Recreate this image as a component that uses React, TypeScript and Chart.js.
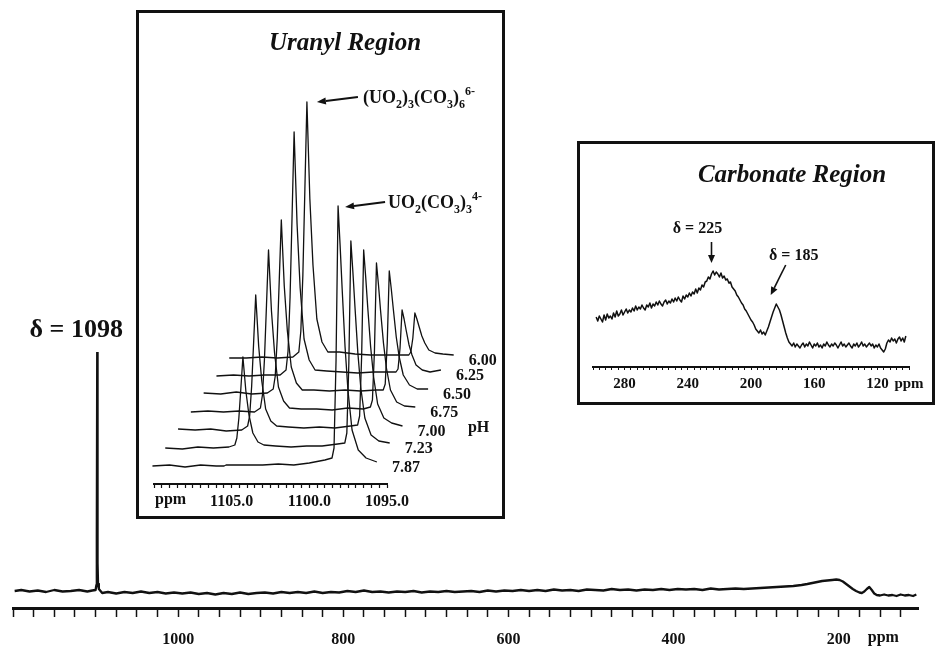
import React, { useEffect, useRef } from "react";
import { Chart, registerables } from "chart.js";

Chart.register(...registerables);

const SERIF = "'Liberation Serif', 'Times New Roman', Times, serif";
const INK = "#111111";

/* ---------------- Main 17O spectrum: [ppm, intensity] ---------------- */
const mainSpectrum: [number, number][] = [
  [1198, 17], [1190, 18], [1180, 16.5], [1170, 17.5], [1160, 16], [1150, 18], [1140, 16.5], [1130, 17],
  [1120, 18], [1110, 16.5], [1104, 17.5], [1100, 18], [1099, 23], [1098.5, 70], [1098, 256], [1097.6, 45],
  [1097, 24], [1096, 19], [1092, 15], [1085, 16], [1075, 14.5], [1065, 16], [1055, 15], [1045, 16.5],
  [1035, 15], [1025, 16], [1015, 14.5], [1005, 15.5], [995, 14.5], [985, 15.5], [975, 14], [965, 15],
  [955, 13.5], [945, 15], [935, 14], [925, 15.5], [915, 14], [905, 15], [895, 15.5], [885, 14.5],
  [875, 16], [865, 15], [855, 16], [845, 15], [835, 16.5], [825, 15], [815, 16], [805, 15.5],
  [795, 17], [785, 16], [775, 17.5], [765, 16], [755, 16.5], [745, 15.5], [735, 16.5], [725, 16],
  [715, 17], [705, 15.5], [695, 16.5], [685, 16], [675, 17], [665, 16], [655, 16.5], [645, 17],
  [635, 16], [625, 17.5], [615, 16.5], [605, 17.5], [595, 17], [585, 18], [575, 17], [565, 18],
  [555, 17], [545, 18.5], [535, 17.5], [525, 18], [515, 17], [505, 18.5], [495, 18], [485, 17.5],
  [475, 19], [465, 18], [455, 18.5], [445, 17.5], [435, 18.5], [425, 18], [415, 19], [405, 18],
  [395, 19], [385, 18.5], [375, 19], [365, 18], [355, 19.5], [345, 18.5], [335, 19], [325, 19.5],
  [315, 19], [305, 19.5], [295, 20], [285, 20.5], [275, 21], [265, 21.5], [255, 22], [245, 23],
  [238, 24], [232, 25], [226, 26], [220, 27], [214, 27.5], [208, 28], [203, 28.5], [199, 28],
  [195, 26.5], [191, 24], [187, 21.5], [183, 19], [179, 17], [175, 15.5], [172, 15], [169, 16.5],
  [166, 19], [163, 21], [160, 18], [157, 14.5], [154, 13], [150, 12.5], [145, 13.5], [140, 12.5],
  [135, 13], [130, 12], [125, 13.5], [120, 12.5], [115, 13], [110, 12], [106, 13.5],
];
const mainTickLabelValues = [1000, 800, 600, 400, 200];
const mainTickLabels = ["1000", "800", "600", "400", "200"];
const mainPeakPpm = 1098;
const mainPeakValue = 256;
const mainPeakLabel = "δ = 1098";

/* ---------------- Uranyl region (stacked traces, own ppm) ---------------- */
const uranylPpm = [
  1110.1, 1109.0, 1108.0, 1107.0, 1106.0, 1105.62, 1105.49, 1105.36, 1105.23, 1105.1, 1104.91, 1104.71,
  1104.46, 1104.13, 1103.75, 1103.0, 1102.0, 1101.0, 1100.0, 1099.0, 1098.54, 1098.41, 1098.28, 1098.15,
  1098.02, 1097.89, 1097.7, 1097.51, 1097.25, 1096.85, 1096.35, 1095.65,
];
const pHLabels = ["7.87", "7.23", "7.00", "6.75", "6.50", "6.25", "6.00"];
const trace787 = [0, 1, -1, 1, 0, 0, 0, 1, 1, 1, 1, 1, 1, 1, 1, 1, 2, 1, 3, 6, 8, 18, 106, 260, 221, 178, 119, 75, 36, 16, 8, 4];
const trace723 = [0, -1, 1, 0, 1, 3, 10, 30, 60, 91, 57, 33, 15, 6, 3, 2, 1, 2, 2, 4, 5, 15, 85, 207, 176, 142, 95, 60, 30, 13, 7, 5];
const trace700 = [1, 0, 1, -1, 0, 4, 14, 44, 89, 135, 84, 49, 21, 9, 4, 3, 2, 3, 2, 4, 5, 14, 74, 180, 153, 123, 83, 53, 26, 12, 7, 4];
const trace675 = [0, 1, 0, 1, 0, 4, 17, 53, 107, 162, 101, 59, 25, 11, 4, 3, 3, 2, 4, 3, 5, 12, 61, 149, 127, 102, 69, 44, 22, 10, 6, 5];
const trace650 = [1, 0, 2, 0, 1, 5, 18, 56, 115, 174, 108, 63, 27, 11, 4, 4, 3, 4, 3, 4, 4, 10, 51, 123, 105, 85, 57, 37, 19, 9, 5, 5];
const trace625 = [0, 1, 0, 1, 1, 6, 25, 79, 161, 244, 152, 88, 37, 16, 6, 5, 4, 3, 4, 4, 4, 7, 28, 66, 57, 46, 31, 21, 11, 6, 4, 6];
const trace600 = [0, 0, 1, 0, 1, 6, 27, 83, 169, 256, 159, 93, 39, 16, 6, 6, 4, 3, 3, 3, 3, 6, 20, 45, 39, 32, 22, 15, 8, 5, 4, 3];
const uranylTraces = [trace787, trace723, trace700, trace675, trace650, trace625, trace600];
const uranylTickLabelValues = [1105, 1100, 1095];
const uranylTickLabels = ["1105.0", "1100.0", "1095.0"];
const TRIMER_INDEX = 9;
const MONOMER_INDEX = 23;

/* ---------------- Carbonate region (ppm 298 → 102, every 1 ppm) ---------------- */
const carbonateIntensity = [
  50, 46, 51, 48, 45, 52, 47, 53, 49, 51,
  48, 54, 50, 56, 51, 53, 57, 52, 55, 58,
  54, 57, 55, 59, 56, 61, 57, 60, 58, 62,
  59, 57, 62, 60, 64, 59, 63, 61, 65, 62,
  66, 63, 61, 65, 67, 63, 66, 64, 68, 65,
  69, 66, 70, 67, 65, 71, 68, 72, 70, 74,
  71, 75, 73, 78, 74, 79, 77, 82, 80, 85,
  86, 90, 88, 93, 96, 92, 95, 93, 90, 94,
  89, 91, 87, 88, 84, 85, 80, 78, 76, 72,
  70, 67, 64, 62, 58, 56, 53, 50, 47, 45,
  42, 38, 36, 34, 37, 33, 35, 32, 36, 40,
  45, 50, 55, 59, 63, 60, 57, 52, 46, 40,
  34, 29, 25, 23, 21, 24, 20, 23, 21, 19,
  22, 24, 20, 23, 21, 25, 22, 19, 23, 21,
  24, 20, 22, 19, 23, 21, 25, 22, 20, 23,
  21, 24, 22, 19, 22, 25, 21, 23, 20, 22,
  24, 21, 19, 23, 21, 24, 20, 22, 25, 21,
  23, 20, 22, 24, 21, 23, 19, 22, 20, 23,
  19, 17, 15, 18, 24, 27, 25, 29, 26, 28,
  24, 28, 30, 26, 29, 25, 31,
];
const carbonatePpm = carbonateIntensity.map((_, i) => 298 - i);
const carbonateTickLabelValues = [280, 240, 200, 160, 120, 100];
const carbonateTickLabels = ["280", "240", "200", "160", "120", "ppm"];

/* ---------------- helpers ---------------- */
function makeTicks(start: number, end: number, step: number) {
  const out: { value: number }[] = [];
  const n = Math.round((start - end) / step);
  for (let i = 0; i <= n; i++) out.push({ value: Math.round((start - i * step) * 1000) / 1000 });
  return out;
}
function labelLookup(values: number[], labels: string[]) {
  return (v: any) => {
    const k = values.findIndex((x) => Math.abs(x - Number(v)) < 1e-6);
    return k >= 0 ? labels[k] : "";
  };
}
function drawArrow(ctx: CanvasRenderingContext2D, x1: number, y1: number, x2: number, y2: number, head = 9, half = 3.5, lw = 2) {
  const a = Math.atan2(y2 - y1, x2 - x1);
  const bx = x2 - head * Math.cos(a);
  const by = y2 - head * Math.sin(a);
  ctx.lineWidth = lw;
  ctx.beginPath();
  ctx.moveTo(x1, y1);
  ctx.lineTo(bx, by);
  ctx.stroke();
  ctx.beginPath();
  ctx.moveTo(x2, y2);
  ctx.lineTo(bx + half * Math.sin(a), by - half * Math.cos(a));
  ctx.lineTo(bx - half * Math.sin(a), by + half * Math.cos(a));
  ctx.closePath();
  ctx.fill();
}
type Seg = [string, number];
const trimerFormula: Seg[] = [["(UO", 0], ["2", 1], [")", 0], ["3", 1], ["(CO", 0], ["3", 1], [")", 0], ["6", 1], ["6-", 2]];
const monomerFormula: Seg[] = [["UO", 0], ["2", 1], ["(CO", 0], ["3", 1], [")", 0], ["3", 1], ["4-", 2]];
function drawFormula(ctx: CanvasRenderingContext2D, segs: Seg[], x: number, y: number) {
  let cx = x;
  ctx.textAlign = "left";
  ctx.textBaseline = "alphabetic";
  for (const [t, kind] of segs) {
    ctx.font = kind === 0 ? `bold 18px ${SERIF}` : `bold 12px ${SERIF}`;
    const dy = kind === 1 ? 5 : kind === 2 ? -8 : 0;
    ctx.fillText(t, cx, y + dy);
    cx += ctx.measureText(t).width;
  }
}

const LIFT = 18;
const DY = 18;
const DX = 0.824;

const baseOptions = {
  responsive: false,
  animation: false as const,
  devicePixelRatio: 1,
  events: [] as any[],
  plugins: { legend: { display: false }, tooltip: { enabled: false } },
};

export default function App() {
  const mainRef = useRef<HTMLCanvasElement>(null);
  const uranylRef = useRef<HTMLCanvasElement>(null);
  const carbRef = useRef<HTMLCanvasElement>(null);

  useEffect(() => {
    const charts: Chart[] = [];

    /* ---- main ---- */
    const mainAnnot = {
      id: "mainAnnot",
      afterDraw(chart: any) {
        const { ctx, scales } = chart;
        const x = scales.x, y = scales.y;
        ctx.save();
        ctx.fillStyle = INK;
        ctx.font = `bold 26px ${SERIF}`;
        ctx.textAlign = "center";
        ctx.textBaseline = "alphabetic";
        ctx.fillText(mainPeakLabel, x.getPixelForValue(mainPeakPpm) - 21, y.getPixelForValue(mainPeakValue) - 15);
        ctx.font = `bold 16px ${SERIF}`;
        ctx.textBaseline = "top";
        ctx.fillText("ppm", x.getPixelForValue(146), chart.chartArea.bottom + 22);
        ctx.restore();
      },
    };
    charts.push(
      new Chart(mainRef.current!, {
        type: "line",
        data: {
          datasets: [
            {
              data: mainSpectrum.map(([p, v]) => ({ x: p, y: v })),
              borderColor: INK,
              borderWidth: 2.3,
              pointRadius: 0,
              tension: 0,
              fill: false,
              borderJoinStyle: "round",
            },
          ],
        },
        options: {
          ...baseOptions,
          layout: { padding: { left: 4, right: 17, top: 352, bottom: 0 } },
          scales: {
            x: {
              type: "linear",
              reverse: true,
              min: 104,
              max: 1200,
              afterBuildTicks: (s: any) => { s.ticks = makeTicks(1200, 125, 25); },
              afterFit: (s: any) => { s.height = 38; },
              grid: { display: true, drawOnChartArea: false, drawTicks: true, tickLength: 9, tickColor: INK, tickWidth: 1.5 },
              border: { display: true, color: INK, width: 3 },
              ticks: {
                autoSkip: false, maxRotation: 0, minRotation: 0, padding: 13, color: INK,
                font: { family: SERIF, size: 16, weight: "bold" },
                callback: labelLookup(mainTickLabelValues, mainTickLabels),
              },
            },
            y: { display: false, min: 0, max: 256 },
          },
        } as any,
        plugins: [mainAnnot],
      })
    );

    /* ---- uranyl ---- */
    const uranylAnnot = {
      id: "uranylAnnot",
      afterDraw(chart: any) {
        const { ctx, scales, chartArea } = chart;
        const x = scales.x, y = scales.y;
        ctx.save();
        ctx.fillStyle = INK;
        ctx.strokeStyle = INK;
        ctx.font = `italic bold 25px ${SERIF}`;
        ctx.textAlign = "center";
        ctx.textBaseline = "alphabetic";
        ctx.fillText("Uranyl Region", 206, 37);

        ctx.font = `bold 16px ${SERIF}`;
        ctx.textAlign = "left";
        ctx.textBaseline = "top";
        ctx.fillText("ppm", chartArea.left + 1, chartArea.bottom + 8);

        const last = uranylPpm.length - 1;
        ctx.textBaseline = "alphabetic";
        uranylTraces.forEach((tr, i) => {
          const px = x.getPixelForValue(uranylPpm[last] - i * DX) + 15;
          const py = y.getPixelForValue(tr[last] + LIFT + i * DY) + 10;
          ctx.fillText(pHLabels[i], px, py);
        });
        ctx.fillText("pH", x.getPixelForValue(uranylPpm[last] - 5 * DX) + 27, y.getPixelForValue(LIFT + 2 * DY) + 2);

        const t6 = uranylTraces.length - 1;
        const tx = x.getPixelForValue(uranylPpm[TRIMER_INDEX] - t6 * DX) + 10;
        const ty = y.getPixelForValue(uranylTraces[t6][TRIMER_INDEX] + LIFT + t6 * DY);
        drawArrow(ctx, tx + 41, ty - 5, tx, ty);
        drawFormula(ctx, trimerFormula, tx + 46, ty + 1);

        const mx = x.getPixelForValue(uranylPpm[MONOMER_INDEX]) + 7;
        const my = y.getPixelForValue(uranylTraces[0][MONOMER_INDEX] + LIFT) + 1;
        drawArrow(ctx, mx + 40, my - 5, mx, my);
        drawFormula(ctx, monomerFormula, mx + 43, my + 1);
        ctx.restore();
      },
    };
    charts.push(
      new Chart(uranylRef.current!, {
        type: "line",
        data: {
          datasets: uranylTraces.map((tr, i) => ({
            data: uranylPpm.map((p, k) => ({ x: p - i * DX, y: tr[k] + LIFT + i * DY })),
            borderColor: INK,
            borderWidth: 1.3,
            pointRadius: 0,
            tension: 0,
            fill: false,
            clip: false,
            borderJoinStyle: "round",
          })),
        },
        options: {
          ...baseOptions,
          layout: { padding: { left: 15, right: 115, top: 80, bottom: 4 } },
          scales: {
            x: {
              type: "linear",
              reverse: true,
              min: 1095,
              max: 1110,
              afterBuildTicks: (s: any) => { s.ticks = makeTicks(1110, 1095, 0.5); },
              afterFit: (s: any) => { s.height = 28; },
              grid: { display: true, drawOnChartArea: false, drawTicks: true, tickLength: 4, tickColor: INK, tickWidth: 1.2 },
              border: { display: true, color: INK, width: 2 },
              ticks: {
                autoSkip: false, maxRotation: 0, minRotation: 0, padding: 4, color: INK,
                font: { family: SERIF, size: 16, weight: "bold" },
                callback: labelLookup(uranylTickLabelValues, uranylTickLabels),
              },
            },
            y: { display: false, min: 0, max: 391 },
          },
        } as any,
        plugins: [uranylAnnot],
      })
    );

    /* ---- carbonate ---- */
    const carbAnnot = {
      id: "carbAnnot",
      afterDraw(chart: any) {
        const { ctx, scales } = chart;
        const x = scales.x, y = scales.y;
        ctx.save();
        ctx.fillStyle = INK;
        ctx.strokeStyle = INK;
        ctx.font = `italic bold 25px ${SERIF}`;
        ctx.textAlign = "center";
        ctx.textBaseline = "alphabetic";
        ctx.fillText("Carbonate Region", 212, 38);

        ctx.font = `bold 16px ${SERIF}`;
        const p1x = x.getPixelForValue(225);
        const p1y = y.getPixelForValue(95);
        ctx.fillText("δ = 225", p1x - 14, p1y - 39);
        drawArrow(ctx, p1x, p1y - 30, p1x, p1y - 9, 8, 3.5, 1.6);

        const p2x = x.getPixelForValue(185);
        const p2y = y.getPixelForValue(63);
        ctx.fillText("δ = 185", p2x + 19, p2y - 44);
        drawArrow(ctx, p2x + 11, p2y - 39, p2x - 4, p2y - 9, 8, 3.5, 1.6);
        ctx.restore();
      },
    };
    charts.push(
      new Chart(carbRef.current!, {
        type: "line",
        data: {
          datasets: [
            {
              data: carbonatePpm.map((p, k) => ({ x: p, y: carbonateIntensity[k] })),
              borderColor: INK,
              borderWidth: 1.5,
              pointRadius: 0,
              tension: 0,
              fill: false,
              borderJoinStyle: "round",
            },
          ],
        },
        options: {
          ...baseOptions,
          layout: { padding: { left: 13, right: 23, top: 60, bottom: 5 } },
          scales: {
            x: {
              type: "linear",
              reverse: true,
              min: 100,
              max: 300,
              afterBuildTicks: (s: any) => { s.ticks = makeTicks(300, 100, 4); },
              afterFit: (s: any) => { s.height = 30; },
              grid: { display: true, drawOnChartArea: false, drawTicks: true, tickLength: 3, tickColor: INK, tickWidth: 1 },
              border: { display: true, color: INK, width: 2 },
              ticks: {
                autoSkip: false, maxRotation: 0, minRotation: 0, padding: 5, color: INK,
                font: { family: SERIF, size: 15, weight: "bold" },
                callback: labelLookup(carbonateTickLabelValues, carbonateTickLabels),
              },
            },
            y: { display: false, min: 0, max: 163 },
          },
        } as any,
        plugins: [carbAnnot],
      })
    );

    return () => charts.forEach((c) => c.destroy());
  }, []);

  const box = {
    position: "absolute" as const,
    border: "3px solid #111",
    boxSizing: "border-box" as const,
    background: "#fff",
  };

  return (
    <div style={{ position: "fixed", left: 0, top: 0, width: 935, height: 646, background: "#fff", overflow: "hidden" }}>
      <canvas ref={mainRef} width={935} height={646} style={{ position: "absolute", left: 0, top: 0 }} />
      <div style={{ ...box, left: 136, top: 10, width: 369, height: 509 }}>
        <canvas ref={uranylRef} width={363} height={503} style={{ display: "block" }} />
      </div>
      <div style={{ ...box, left: 577, top: 141, width: 358, height: 264 }}>
        <canvas ref={carbRef} width={352} height={258} style={{ display: "block" }} />
      </div>
    </div>
  );
}
